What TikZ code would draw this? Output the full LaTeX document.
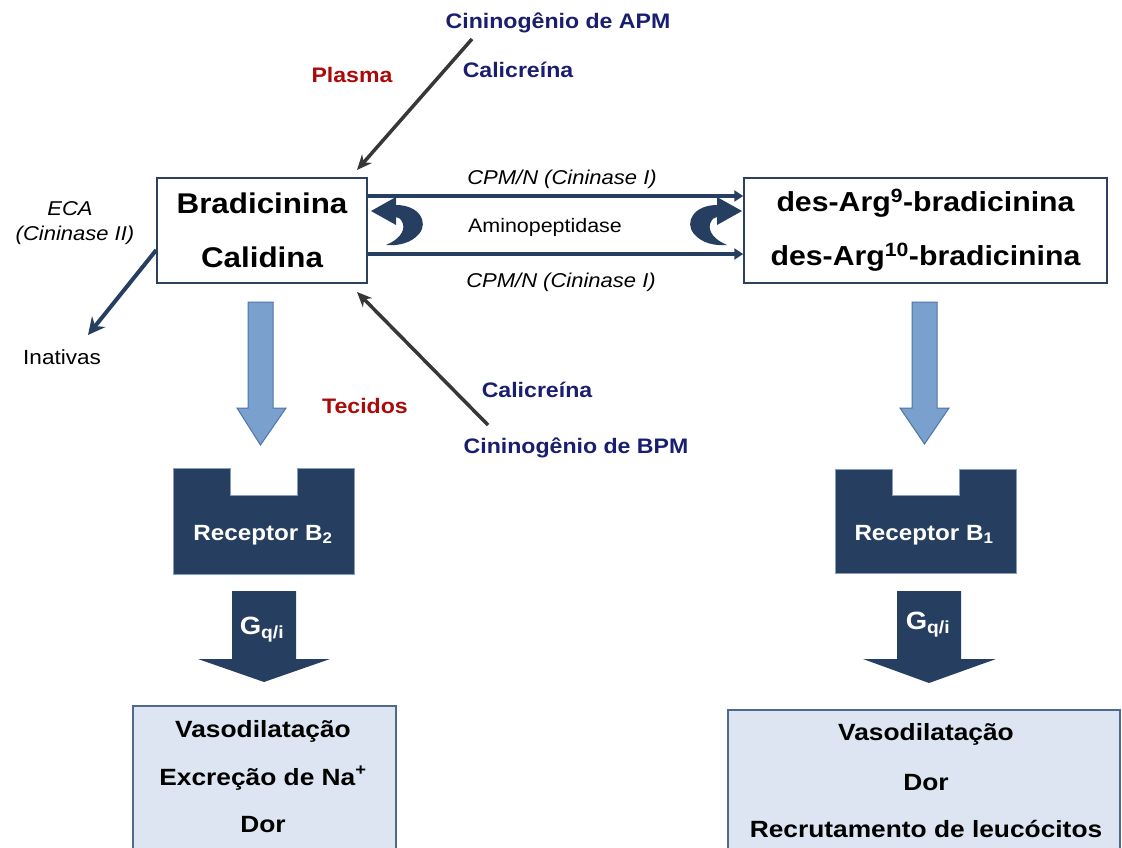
\documentclass[tikz,border=0pt]{standalone}
\usepackage{fontspec}
\setmainfont[FakeStretch=1.1]{Liberation Sans}
\newfontfamily\wfont[FakeStretch=1.12]{Liberation Sans}
\usetikzlibrary{arrows.meta}
\definecolor{navy}{RGB}{38,63,97}
\definecolor{txtnavy}{RGB}{25,30,110}
\definecolor{txtred}{RGB}{170,10,10}
\definecolor{lightarrow}{RGB}{122,160,206}
\definecolor{lightborder}{RGB}{80,115,165}
\definecolor{effectfill}{RGB}{220,229,241}
\definecolor{effectborder}{RGB}{80,105,140}
\definecolor{boxborder}{RGB}{45,65,95}
\definecolor{grayarrow}{RGB}{55,55,55}
\newcommand\myfs[1]{\fontsize{#1}{#1}\selectfont}
\begin{document}
\begin{tikzpicture}[x=1pt,y=-1pt,
  lbl/.style={inner sep=0pt,anchor=base},
  kininbox/.style={draw=boxborder,line width=1.5pt,fill=white,align=center,
     font=\fontsize{28.5}{54}\selectfont\bfseries,minimum height=105pt},
  effbox/.style={draw=effectborder,line width=1.5pt,fill=effectfill},
  navylbl/.style={lbl,text=txtnavy,font=\myfs{21}\bfseries},
  redlbl/.style={lbl,text=txtred,font=\myfs{21}\bfseries},
  enzlbl/.style={lbl,font=\myfs{20}\itshape},
  efflbl/.style={lbl,font=\wfont\myfs{23.5}\bfseries},
  reclbl/.style={lbl,text=white,font=\myfs{22}\bfseries},
  hconn/.style={draw=navy,line width=4pt,-{Triangle[length=9pt,width=11pt]}},
  grayconn/.style={draw=grayarrow,line width=3.5pt,-{Stealth[length=15pt,width=13pt]}},
  ecaconn/.style={draw=navy,line width=4pt,-{Stealth[length=17pt,width=17pt]}},
  lightblock/.style={fill=lightarrow,draw=lightborder,line width=1pt},
  darkblock/.style={fill=navy},
  recshape/.style={fill=navy,draw=lightborder!70,line width=0.8pt},
  curv/.pic={\fill[navy] (0,0) -- (25,-14) -- (25,-6)
     .. controls (48,-6) and (58,11) .. (48,23)
     .. controls (40,32) and (28,35) .. (15,34)
     .. controls (27,29) and (34,21) .. (32,13)
     .. controls (30,8) and (28,6) .. (25,6) -- (25,14) -- cycle;}
]
\useasboundingbox (0,0) rectangle (1122,847);
\clip (0,0) rectangle (1122,847);

% main boxes
\node[kininbox,minimum width=210pt] (bk) at (262,230.5) {Bradicinina\\Calidina};
\node[kininbox,minimum width=363pt,font=\fontsize{27.5}{54}\selectfont\bfseries] (da) at (925.5,230.5)
  {des-Arg\textsuperscript{9}-bradicinina\\des-Arg\textsuperscript{10}-bradicinina};

% horizontal connectors
\draw[hconn] (bk.east |- 0,196) -- (da.west |- 0,196);
\draw[hconn] (bk.east |- 0,254) -- (da.west |- 0,254);
\node[enzlbl] (cpm1) at (562,184) {CPM/N (Cininase I)};
\node[enzlbl] (cpm2) at (561,287) {CPM/N (Cininase I)};
\node[lbl,font=\myfs{19.5}] (amino) at (545,232) {Aminopeptidase};
\pic at (371,211) {curv};
\pic[xscale=-1] at (742,211) {curv};

% plasma pathway
\node[navylbl] (apm) at (558,28) {Cininogênio de APM};
\node[navylbl] (cal1) at (518,77) {Calicreína};
\node[redlbl] (plasma) at (352,82) {Plasma};
\coordinate (apmstart) at (472,39);
\coordinate (apmend) at (357,170);
\draw[grayconn] (apmstart) -- (apmend);

% tissue pathway
\node[navylbl] (bpm) at (576,453) {Cininogênio de BPM};
\node[navylbl] (cal2) at (537,397) {Calicreína};
\node[redlbl] (tec) at (365,413) {Tecidos};
\coordinate (bpmstart) at (488,425);
\coordinate (bpmend) at (357,292);
\draw[grayconn] (bpmstart) -- (bpmend);

% ECA
\node[enzlbl] (eca1) at (70,215) {ECA};
\node[enzlbl] (eca2) at (75,240) {(Cininase II)};
\coordinate (inatend) at (88,335);
\draw[ecaconn] (bk.west |- 0,250) -- (inatend);
\node[lbl,anchor=base west,font=\myfs{20.5}] (inat) at (23,364) {Inativas};

% light block arrows
\fill[lightblock] (248,302) -- (273,302) -- (273,408) -- (286,408) -- (260.5,445)
  -- (237,408) -- (248,408) -- cycle;
\fill[lightblock] (912,302) -- (937,302) -- (937,408) -- (949,408) -- (924.5,444)
  -- (900,408) -- (912,408) -- cycle;

% receptors
\filldraw[recshape] (173,468) -- (230,468) -- (230,495) -- (297,495) -- (297,468)
  -- (354,468) -- (354,574) -- (173,574) -- cycle;
\node[reclbl] (rb2) at (263,540) {Receptor B\textsubscript{2}};
\filldraw[recshape] (835,469) -- (892,469) -- (892,495) -- (959,495) -- (959,469)
  -- (1016,469) -- (1016,573) -- (835,573) -- cycle;
\node[reclbl] (rb1) at (924,540) {Receptor B\textsubscript{1}};

% G protein arrows
\fill[darkblock] (232,591) -- (296,591) -- (296,659) -- (330,659) -- (264,682)
  -- (198,659) -- (232,659) -- cycle;
\node[reclbl,font=\myfs{25}\bfseries] (gq2) at (262,634) {G\textsubscript{q/i}};
\fill[darkblock] (897,591) -- (961,591) -- (961,659) -- (996,659) -- (929,683)
  -- (863,659) -- (897,659) -- cycle;
\node[reclbl,font=\myfs{25}\bfseries] (gq1) at (928,629) {G\textsubscript{q/i}};

% effect boxes
\node[effbox,anchor=north west,minimum width=263pt,minimum height=160pt] (eff2) at (132,705) {};
\node[efflbl] (e2a) at (263,737) {Vasodilatação};
\node[efflbl] (e2b) at (263,785) {Excreção de Na\textsuperscript{+}};
\node[efflbl] (e2c) at (263,832) {Dor};
\node[effbox,anchor=north west,minimum width=392pt,minimum height=160pt] (eff1) at (727,709) {};
\node[efflbl] (e1a) at (926,740) {Vasodilatação};
\node[efflbl] (e1b) at (926,790) {Dor};
\node[efflbl] (e1c) at (926,837) {Recrutamento de leucócitos};
\end{tikzpicture}
\end{document}
